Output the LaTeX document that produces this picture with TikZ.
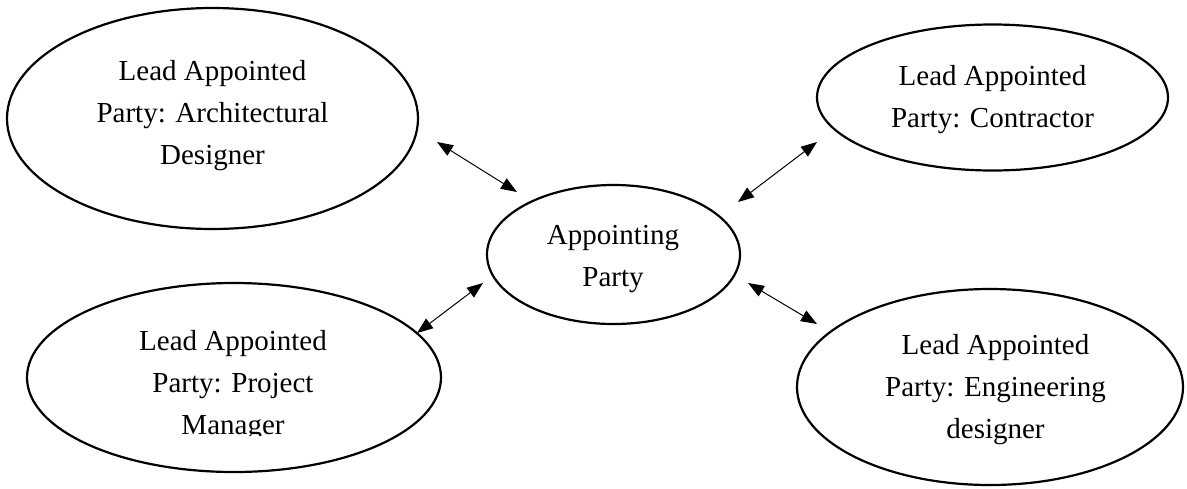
\documentclass[tikz,border=0pt]{standalone}
\usepackage{fontspec}
\setmainfont{Liberation Serif}
\usetikzlibrary{shapes.geometric,arrows.meta}
\begin{document}
\begin{tikzpicture}[x=0.5pt,y=-0.5pt,
  oval/.style n args={2}{draw, ellipse, line width=1.1pt, inner sep=0pt, outer sep=0pt,
    minimum width=#1*0.5pt, minimum height=#2*0.5pt},
  label/.style={anchor=base, align=center, inner sep=0pt, font=\fontsize{14.5pt}{21pt}\selectfont},
  link/.style={line width=0.5pt, {Triangle[length=8pt,width=6pt]}-{Triangle[length=8pt,width=6pt]}}]
\useasboundingbox (0,0) rectangle (1187,488);
% ellipses
\node[oval={411}{221}] (arch) at (212.5,118.5) {};
\node[oval={351}{146}] (contr) at (992.5,97.5) {};
\node[oval={253}{139}] (app) at (613.5,254.5) {};
\node[oval={414}{189}] (pm) at (234,377.5) {};
\node[oval={386}{196}] (eng) at (990,387) {};
% texts (base anchor = baseline of last line)
\node[label] (archtext) at (212.5,164) {Lead Appointed\\Party: Architectural\\Designer};
\node[label] (contrtext) at (992.5,127) {Lead Appointed\\Party: Contractor};
\node[label] (apptext) at (613,286) {Appointing\\Party};
\begin{scope}
\clip (0,0) rectangle (1187,435.5);
\node[label] (pmtext) at (233,434) {Lead Appointed\\Party: Project\\Manager};
\end{scope}
\node[label] (engtext) at (995.5,438) {Lead Appointed\\Party: Engineering\\designer};
% connector ends
\coordinate (a1) at (437,142); \coordinate (a2) at (517,192);
\coordinate (b1) at (817,142); \coordinate (b2) at (738,202);
\coordinate (c1) at (483,283); \coordinate (c2) at (417,333);
\coordinate (d1) at (748,283); \coordinate (d2) at (817,324);
\draw[link] (a1) -- (a2);
\draw[link] (b1) -- (b2);
\draw[link] (c1) -- (c2);
\draw[link] (d1) -- (d2);
\end{tikzpicture}
\end{document}
